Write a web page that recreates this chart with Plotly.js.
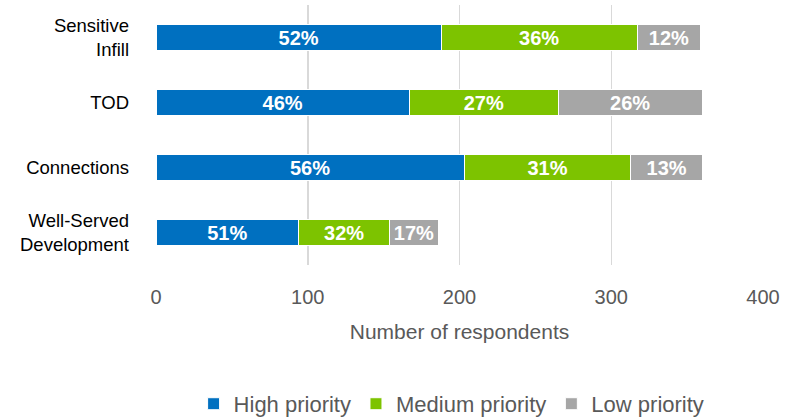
<!DOCTYPE html>
<html>
<head>
<meta charset="utf-8">
<script src="https://cdn.plot.ly/plotly-3.0.1.min.js"></script>
<style>html,body{margin:0;padding:0;background:#fff;}#chart{width:798px;height:419px;}</style>
</head>
<body>
<div id="chart"></div>
<script>
// Categories listed bottom to top (Plotly draws first category at the bottom)
const categories = ["Well-Served<br>Development", "Connections", "TOD", "Sensitive<br>Infill"];
const seriesNames = ["High priority", "Medium priority", "Low priority"];
const highValues = [94, 203, 167, 188];
const mediumValues = [60, 110, 98, 129];
const lowValues = [32, 47, 95, 42];
const highLabels = ["51%", "56%", "46%", "52%"];
const mediumLabels = ["32%", "31%", "27%", "36%"];
const lowLabels = ["17%", "13%", "26%", "12%"];
const xTicks = [0, 100, 200, 300, 400];

const colors = ["#0070C0", "#7DC300", "#A6A6A6"];
const fam = "Liberation Sans, Arial, sans-serif";

function bar(name, values, labels, color) {
  return {
    type: "bar", orientation: "h", name: name,
    y: categories, x: values, text: labels,
    textposition: "inside", insidetextanchor: "middle", constraintext: "none",
    textfont: {family: fam, size: 20, color: "#FFFFFF"},
    texttemplate: "<b>%{text}</b>",
    marker: {color: color, line: {color: "#FFFFFF", width: 1}},
    hoverinfo: "none"
  };
}

const data = [
  bar(seriesNames[0], highValues, highLabels, colors[0]),
  bar(seriesNames[1], mediumValues, mediumLabels, colors[1]),
  bar(seriesNames[2], lowValues, lowLabels, colors[2])
];

const layout = {
  width: 798, height: 419,
  margin: {l: 156, r: 35, t: 5, b: 154, autoexpand: false},
  barmode: "stack", bargap: 0.6,
  paper_bgcolor: "#FFFFFF", plot_bgcolor: "#FFFFFF",
  font: {family: fam, size: 20, color: "#595959"},
  xaxis: {
    automargin: false,
    range: [0, 400], tickvals: xTicks, showgrid: true, gridcolor: "#D9D9D9", gridwidth: 1.5,
    zeroline: false, showline: false, ticks: "",
    ticklabelstandoff: 18,
    tickfont: {family: fam, size: 20, color: "#595959"},
    title: {text: "Number of respondents", font: {family: fam, size: 21, color: "#595959"}, standoff: 17}
  },
  yaxis: {
    automargin: false,
    showgrid: false, zeroline: false, showline: false, ticks: "",
    ticklabelstandoff: 26,
    tickfont: {family: fam, size: 18.5, color: "#000000"}
  },
  legend: {
    orientation: "h", x: 0.487, xanchor: "center",
    yref: "container", y: 0.036, yanchor: "middle",
    traceorder: "normal",
    font: {family: fam, size: 22, color: "#595959"}
  },
  showlegend: true
};

Plotly.newPlot("chart", data, layout, {displayModeBar: false, staticPlot: true});
</script>
</body>
</html>
